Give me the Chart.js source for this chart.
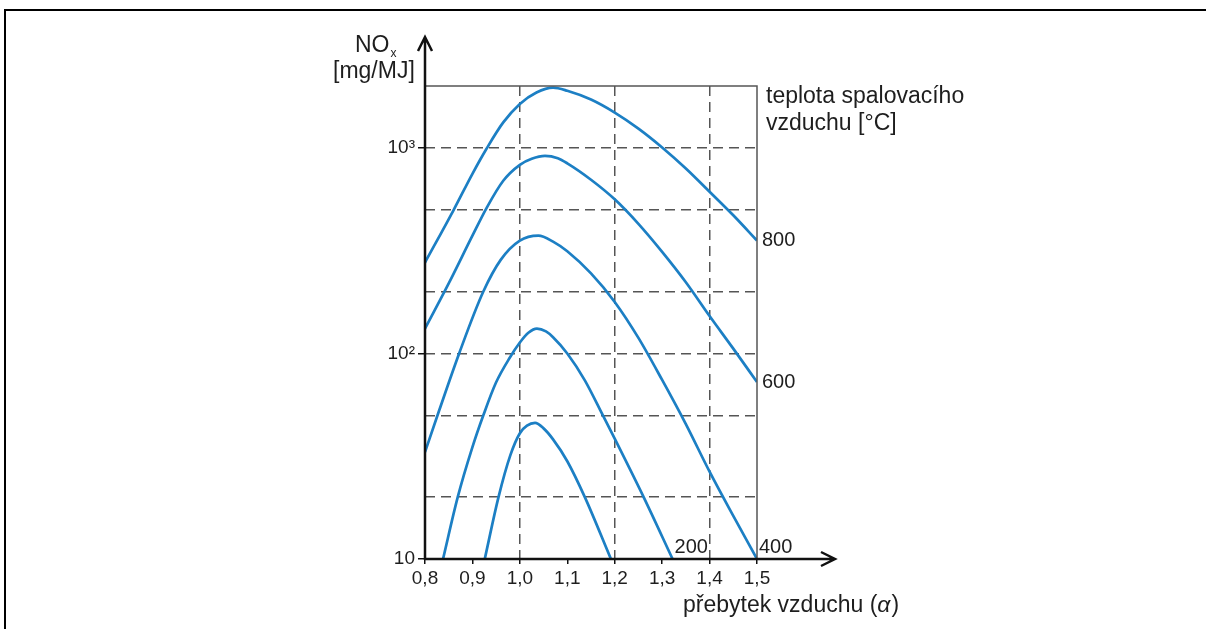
<!DOCTYPE html>
<html>
<head>
<meta charset="utf-8">
<script src="https://cdn.jsdelivr.net/npm/chart.js@4.4.0/dist/chart.umd.min.js"></script>
<style>
  body { margin: 0; background: #fff; overflow: hidden; }
  #frame { position: absolute; left: 4px; top: 9px; width: 1400px; height: 900px; border-top: 2px solid #000; border-left: 2px solid #000; }
  #noxChart { position: absolute; left: 0; top: 0; }
</style>
</head>
<body>
<div id="frame"></div>
<canvas id="noxChart" width="1206" height="629"></canvas>
<script>
// axis values
var xTicks = [0.8, 0.9, 1.0, 1.1, 1.2, 1.3, 1.4, 1.5];
var xGridValues = [1.0, 1.2, 1.4];
var yGridValues = [10, 20, 50, 100, 200, 500, 1000, 2000];
var yTickLabels = { 10: "10", 100: "10²", 1000: "10³" };

// curves (excess air vs NOx, by air temperature)
var seriesLabels = ["800", "600", "400", "200", ""];
var t800X = [0.8, 0.86, 0.9, 0.93, 0.965, 1.0, 1.035, 1.07, 1.1, 1.15, 1.2, 1.25, 1.3, 1.35, 1.4, 1.45, 1.5];
var t800Y = [277, 497, 748, 993, 1330, 1636, 1860, 1963, 1896, 1718, 1485, 1241, 1005, 794, 612, 470, 354];
var t600X = [0.8, 0.85, 0.9, 0.93, 0.965, 1.0, 1.025, 1.053, 1.08, 1.1, 1.15, 1.2, 1.25, 1.3, 1.35, 1.4, 1.45, 1.5];
var t600Y = [132, 219, 374, 511, 692, 827, 885, 914, 890, 841, 700, 562, 427, 312, 222, 152, 105.5, 72.6];
var t400X = [0.8, 0.83, 0.872, 0.923, 0.96, 1.0, 1.039, 1.07, 1.1, 1.15, 1.2, 1.25, 1.3, 1.35, 1.4, 1.45, 1.5];
var t400Y = [33.1, 52.9, 100, 200, 286, 354, 374, 350, 314, 245, 178, 119, 74.3, 45.3, 26.6, 16.2, 10];
var t200X = [0.838, 0.869, 0.9, 0.923, 0.9495, 0.979, 1.0, 1.018, 1.036, 1.055, 1.07, 1.1, 1.137, 1.175, 1.2, 1.261, 1.322];
var t200Y = [10, 20, 35, 50, 72, 95.6, 113, 126, 132, 128, 120, 100, 74, 50, 38.5, 20, 10];
var tLowX = [0.926, 0.955, 0.98, 1.0, 1.015, 1.032, 1.05, 1.07, 1.1, 1.137, 1.192];
var tLowY = [10, 20, 32, 40.9, 44.5, 45.9, 43.2, 38.2, 29.9, 20, 10];

var curveColor = "rgb(28,127,196)";
var textColor = "#1e1e1e";
var gridColor = "#555";

function toPoints(xs, ys) {
  return xs.map(function (x, i) { return { x: x, y: ys[i] }; });
}

function isGridX(v) {
  return xGridValues.some(function (g) { return Math.abs(g - v) < 1e-6; });
}

var decorPlugin = {
  id: "decor",
  afterDraw: function (chart) {
    var ctx = chart.ctx;
    var xs = chart.scales.x, ys = chart.scales.y;
    var left = xs.getPixelForValue(0.8), right = xs.getPixelForValue(1.5);
    var top = ys.getPixelForValue(2000), bottom = ys.getPixelForValue(10);
    ctx.save();

    // top and right border of the plot
    ctx.strokeStyle = gridColor;
    ctx.lineWidth = 1.5;
    ctx.beginPath();
    ctx.moveTo(left, top);
    ctx.lineTo(right, top);
    ctx.lineTo(right, bottom);
    ctx.stroke();

    // axes with arrows
    ctx.strokeStyle = "#111";
    ctx.lineWidth = 2.5;
    ctx.beginPath();
    ctx.moveTo(left, bottom + 1);
    ctx.lineTo(left, 37);
    ctx.moveTo(left - 7, 51);
    ctx.lineTo(left, 37);
    ctx.lineTo(left + 7, 51);
    ctx.moveTo(left - 1, bottom);
    ctx.lineTo(835, bottom);
    ctx.moveTo(821, bottom - 7);
    ctx.lineTo(835, bottom);
    ctx.lineTo(821, bottom + 7);
    ctx.stroke();

    ctx.fillStyle = textColor;
    ctx.textBaseline = "alphabetic";
    ctx.textAlign = "left";

    // y title
    ctx.font = "23px 'Liberation Sans'";
    ctx.fillText("NO", 355, 52);
    var noW = ctx.measureText("NO").width;
    ctx.font = "12px 'Liberation Sans'";
    ctx.fillText("x", 355 + noW + 1, 57);
    ctx.font = "23px 'Liberation Sans'";
    ctx.fillText("[mg/MJ]", 333, 78);

    // legend title
    ctx.fillText("teplota spalovacího", 766, 103);
    ctx.fillText("vzduchu [°C]", 766, 130);

    // x title
    var t1 = "přebytek vzduchu (";
    ctx.fillText(t1, 683, 612);
    var w1 = ctx.measureText(t1).width;
    ctx.font = "italic 23px 'Liberation Sans'";
    ctx.fillText("α", 683 + w1, 612);
    var w2 = ctx.measureText("α").width;
    ctx.font = "23px 'Liberation Sans'";
    ctx.fillText(")", 683 + w1 + w2 + 1, 612);

    // curve labels at the curve ends
    ctx.font = "20px 'Liberation Sans'";
    chart.data.datasets.forEach(function (ds, i) {
      if (!seriesLabels[i]) return;
      var last = ds.data[ds.data.length - 1];
      var px = xs.getPixelForValue(last.x);
      if (last.y <= 10) {
        ctx.textBaseline = "alphabetic";
        ctx.fillText(seriesLabels[i], px + 2, bottom - 6);
      } else {
        ctx.textBaseline = "middle";
        ctx.fillText(seriesLabels[i], px + 5, ys.getPixelForValue(last.y));
      }
    });
    ctx.restore();
  }
};

var allX = [t800X, t600X, t400X, t200X, tLowX];
var allY = [t800Y, t600Y, t400Y, t200Y, tLowY];
var datasets = allX.map(function (xs, i) {
  return {
    label: seriesLabels[i],
    data: toPoints(xs, allY[i]),
    borderColor: curveColor,
    borderWidth: 2.7,
    pointRadius: 0,
    showLine: true,
    cubicInterpolationMode: "monotone",
    fill: false
  };
});

var ctx = document.getElementById("noxChart").getContext("2d");
var noxChart = new Chart(ctx, {
  type: "scatter",
  data: { datasets: datasets },
  options: {
    responsive: false,
    animation: false,
    layout: { padding: { left: 365, right: 449, top: 86, bottom: 20 } },
    plugins: { legend: { display: false }, tooltip: { enabled: false } },
    scales: {
      x: {
        type: "linear",
        min: 0.8,
        max: 1.5,
        afterBuildTicks: function (scale) {
          scale.ticks = xTicks.map(function (v) { return { value: v }; });
        },
        afterFit: function (scale) { scale.height = 50; },
        ticks: {
          autoSkip: false,
          maxRotation: 0,
          padding: 3,
          color: textColor,
          font: { family: "Liberation Sans", size: 19 },
          callback: function (value) { return value.toFixed(1).replace(".", ","); }
        },
        grid: {
          color: function (c) { return c.tick && isGridX(c.tick.value) ? gridColor : "rgba(0,0,0,0)"; },
          lineWidth: 1.5,
          tickColor: "#111",
          tickLength: 5,
          tickWidth: 1.5
        },
        border: { display: false, dash: [10, 6] }
      },
      y: {
        type: "logarithmic",
        min: 10,
        max: 2000,
        afterBuildTicks: function (scale) {
          scale.ticks = yGridValues.map(function (v) { return { value: v }; });
        },
        afterFit: function (scale) { scale.width = 60; },
        ticks: {
          autoSkip: false,
          padding: 3,
          color: textColor,
          font: { family: "Liberation Sans", size: 19 },
          callback: function (value) { return yTickLabels[value] || ""; }
        },
        grid: {
          color: function (c) {
            if (!c.tick) return "rgba(0,0,0,0)";
            var v = c.tick.value;
            return (v === 10 || v === 2000) ? "rgba(0,0,0,0)" : gridColor;
          },
          lineWidth: 1.5,
          tickColor: function (c) { return c.tick && yTickLabels[c.tick.value] ? "#111" : "rgba(0,0,0,0)"; },
          tickLength: 7,
          tickWidth: 1.5
        },
        border: { display: false, dash: [10, 6] }
      }
    }
  },
  plugins: [decorPlugin]
});
</script>
</body>
</html>
